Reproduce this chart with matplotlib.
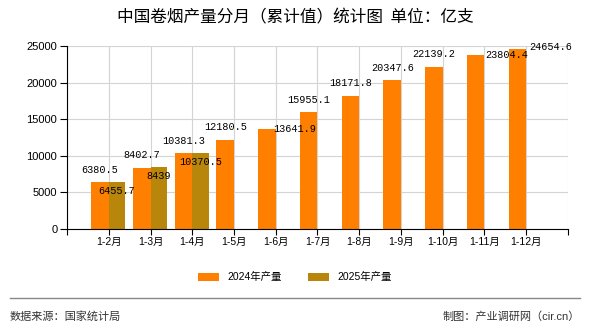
import matplotlib
matplotlib.use("Agg")
import matplotlib.pyplot as plt
import numpy as np

plt.rcParams['font.family'] = ['Liberation Sans', 'Noto Sans CJK SC', 'DejaVu Sans']

months = ["1-2月", "1-3月", "1-4月", "1-5月", "1-6月", "1-7月",
          "1-8月", "1-9月", "1-10月", "1-11月", "1-12月"]
output_2024 = [6380.5, 8402.7, 10381.3, 12180.5, 13641.9, 15955.1,
               18171.8, 20347.6, 22139.2, 23804.4, 24654.6]
output_2025 = [6455.7, 8439, 10370.5]

# label offsets in points (dx, dy) for the 2024 labels
label_offsets_2024 = {4: (20, 0), 9: (22, 0), 10: (24, 1)}

fig = plt.figure(figsize=(5.9, 3.3), dpi=100)
ax = fig.add_axes([0.1136, 0.306, 0.849, 0.5546])

x = np.arange(len(months))
w = 0.42
ax.bar(x - w / 2, output_2024, width=w, color="#FF8000", label="2024年产量", zorder=2)
ax.bar(np.arange(len(output_2025)) + 0.4 / 2, output_2025, width=0.4,
       color="#B8860B", label="2025年产量", zorder=2)

mono = ['Liberation Mono', 'DejaVu Sans Mono']
for i, v in enumerate(output_2024):
    dx, dy = label_offsets_2024.get(i, (0, 9))
    ax.annotate(f"{v:g}", (x[i] - w / 2, v), xytext=(dx, dy), textcoords="offset points",
                ha="center", va="center", fontsize=7.3, family=mono, zorder=3)
for i, v in enumerate(output_2025):
    ax.annotate(f"{v:g}", (i + 0.2, v), xytext=(0, -6.5), textcoords="offset points",
                ha="center", va="center", fontsize=7.3, family=mono, zorder=3)

ax.set_xlim(-1, 11)
ax.set_ylim(0, 25000)
ax.set_xticks(np.arange(-1, 12))
ax.set_xticklabels([""] + months + [""], fontsize=7.5)
ax.set_yticks(np.arange(0, 25001, 5000))
ax.tick_params(axis="y", labelsize=8, length=5, direction="out", pad=2)
ax.tick_params(axis="x", length=4, direction="out", pad=2)
ax.grid(True, color="#d4d4d4", linewidth=0.8, zorder=0)
for s in ["top", "right"]:
    ax.spines[s].set_visible(False)
ax.spines["left"].set_color("black")
ax.spines["bottom"].set_color("black")

fig.text(0.5, 0.945, "中国卷烟产量分月（累计值）统计图  单位：亿支", ha="center", va="center",
         fontsize=12, family=['Noto Sans CJK SC'])
fig.legend(loc="center", bbox_to_anchor=(0.5, 0.16), ncol=2, frameon=False,
           fontsize=7.5, handlelength=2.0, handleheight=0.8, columnspacing=2.5)
fig.add_artist(plt.Line2D([0.017, 0.983], [0.097, 0.097], color="#888888", linewidth=1.0))
fig.text(0.017, 0.042, "数据来源：国家统计局", ha="left", va="center", fontsize=8, color="#333333")
fig.text(0.983, 0.042, "制图：产业调研网（cir.cn）", ha="right", va="center", fontsize=8, color="#333333")

fig.savefig("out.png", dpi=100)
